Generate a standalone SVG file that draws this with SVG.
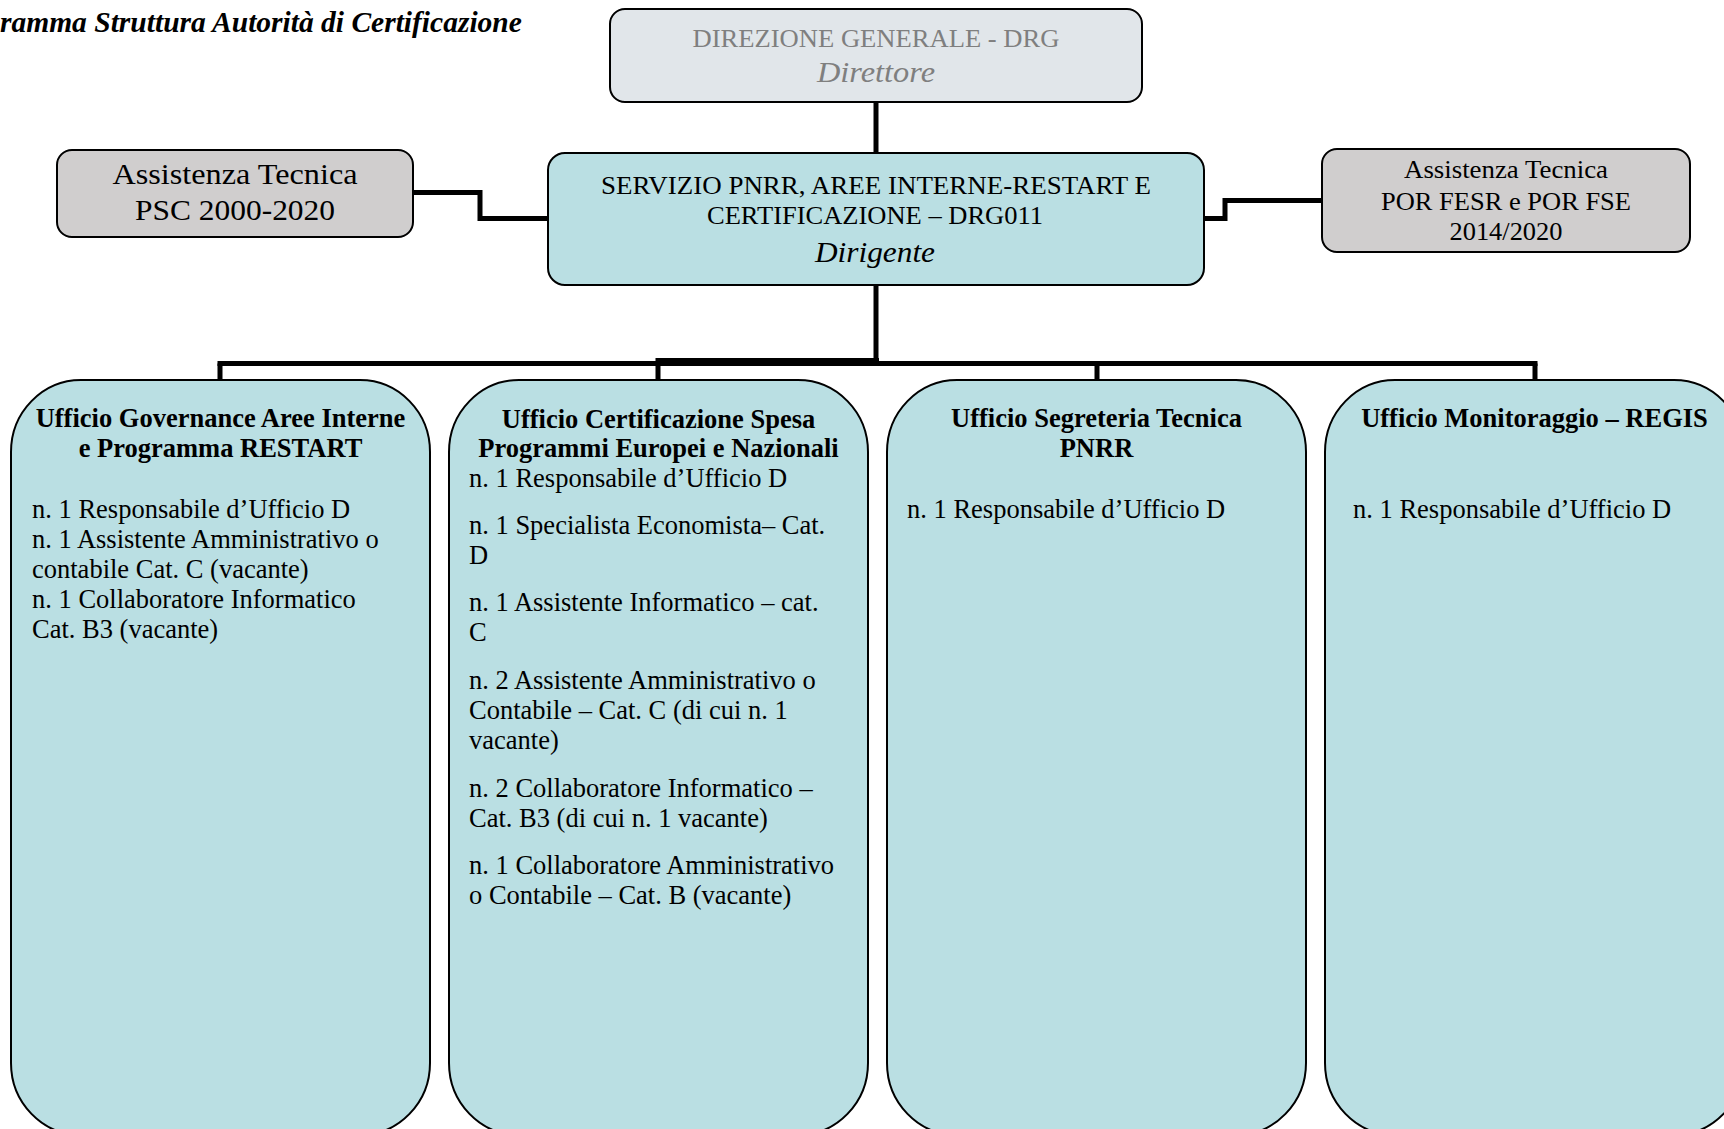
<svg xmlns="http://www.w3.org/2000/svg" width="1724" height="1129" viewBox="0 0 1724 1129">
<style>
  text { font-family: "Liberation Serif", "Times New Roman", serif; fill: #000; }
  .c { text-anchor: middle; }
  .hdr { font-size: 26.5px; font-weight: bold; text-anchor: middle; }
  .body { font-size: 26.5px; }
  .conn { fill: none; stroke: #000; stroke-width: 5; stroke-linejoin: miter; stroke-linecap: butt; }
  .office { fill: #badfe3; stroke: #000; stroke-width: 2; }
  .grey { fill: #d0cece; stroke: #000; stroke-width: 2; }
</style>
<rect width="1724" height="1129" fill="#ffffff"/>

<text x="0" y="32" font-size="29.5" font-weight="bold" font-style="italic">ramma Struttura Autorità di Certificazione</text>

<g id="connectors">
  <path class="conn" stroke-width="6" d="M876 102 V153"/>
  <path class="conn" stroke-width="6" d="M876 285 V366"/>
  <path class="conn" d="M217.5 363.5 H1537.5"/>
  <path class="conn" d="M655.5 360.5 H879"/>
  <path class="conn" d="M220 363.5 V381 M658 363.5 V381 M1097 363.5 V381 M1535 363.5 V381"/>
  <path class="conn" d="M413 192.5 H480 V218.5 H548"/>
  <path class="conn" d="M1204 218.5 H1225 V200.5 H1322"/>
</g>

<g id="node-drg">
  <rect x="610" y="9" width="532" height="93" rx="15" ry="15" fill="#e1e6ea" stroke="#000" stroke-width="2"/>
  <text class="c" x="876" y="47" font-size="25" style="fill:#7f7f7f" textLength="367" lengthAdjust="spacingAndGlyphs">DIREZIONE GENERALE - DRG</text>
  <text class="c" x="876" y="82" font-size="30" font-style="italic" style="fill:#7f7f7f" textLength="118" lengthAdjust="spacingAndGlyphs">Direttore</text>
</g>

<g id="node-servizio">
  <rect x="548" y="153" width="656" height="132" rx="17" ry="17" fill="#badfe3" stroke="#000" stroke-width="2"/>
  <text class="c" x="876" y="194" font-size="25" textLength="550" lengthAdjust="spacingAndGlyphs">SERVIZIO PNRR, AREE INTERNE-RESTART E</text>
  <text class="c" x="875" y="224" font-size="25" textLength="336" lengthAdjust="spacingAndGlyphs">CERTIFICAZIONE – DRG011</text>
  <text class="c" x="875" y="262" font-size="30" font-style="italic" textLength="120" lengthAdjust="spacingAndGlyphs">Dirigente</text>
</g>

<g id="node-at-psc">
  <rect class="grey" x="57" y="150" width="356" height="87" rx="15" ry="15"/>
  <text class="c" x="235" y="184" font-size="30" textLength="245" lengthAdjust="spacingAndGlyphs">Assistenza Tecnica</text>
  <text class="c" x="235" y="220" font-size="30" textLength="200" lengthAdjust="spacingAndGlyphs">PSC 2000-2020</text>
</g>

<g id="node-at-por">
  <rect class="grey" x="1322" y="149" width="368" height="103" rx="15" ry="15"/>
  <text class="c" x="1506" y="178" font-size="26" textLength="204" lengthAdjust="spacingAndGlyphs">Assistenza Tecnica</text>
  <text class="c" x="1506" y="210" font-size="26" textLength="250" lengthAdjust="spacingAndGlyphs">POR FESR e POR FSE</text>
  <text class="c" x="1506" y="240" font-size="26" textLength="113" lengthAdjust="spacingAndGlyphs">2014/2020</text>
</g>

<g id="node-ufficio-governance">
  <rect class="office" x="11" y="380" width="419" height="755" rx="70" ry="72"/>
  <text class="hdr" x="220.5" y="427">Ufficio Governance Aree Interne</text>
  <text class="hdr" x="220.5" y="457">e Programma RESTART</text>
  <text class="body" x="32" y="518">n. 1 Responsabile d’Ufficio D</text>
  <text class="body" x="32" y="548">n. 1 Assistente Amministrativo o</text>
  <text class="body" x="32" y="578">contabile Cat. C (vacante)</text>
  <text class="body" x="32" y="608">n. 1 Collaboratore Informatico</text>
  <text class="body" x="32" y="638">Cat. B3 (vacante)</text>
</g>

<g id="node-ufficio-certificazione">
  <rect class="office" x="449" y="380" width="419" height="755" rx="70" ry="72"/>
  <text class="hdr" x="658.5" y="428">Ufficio Certificazione Spesa</text>
  <text class="hdr" x="658.5" y="457">Programmi Europei e Nazionali</text>
  <text class="body" x="469" y="487">n. 1 Responsabile d’Ufficio D</text>
  <text class="body" x="469" y="534">n. 1 Specialista Economista– Cat.</text>
  <text class="body" x="469" y="564">D</text>
  <text class="body" x="469" y="611">n. 1 Assistente Informatico – cat.</text>
  <text class="body" x="469" y="641">C</text>
  <text class="body" x="469" y="689">n. 2 Assistente Amministrativo o</text>
  <text class="body" x="469" y="719">Contabile – Cat. C (di cui n. 1</text>
  <text class="body" x="469" y="749">vacante)</text>
  <text class="body" x="469" y="797">n. 2 Collaboratore Informatico –</text>
  <text class="body" x="469" y="827">Cat. B3 (di cui n. 1 vacante)</text>
  <text class="body" x="469" y="874">n. 1 Collaboratore Amministrativo</text>
  <text class="body" x="469" y="904">o Contabile – Cat. B (vacante)</text>
</g>

<g id="node-ufficio-segreteria">
  <rect class="office" x="887" y="380" width="419" height="755" rx="70" ry="72"/>
  <text class="hdr" x="1096.5" y="427">Ufficio Segreteria Tecnica</text>
  <text class="hdr" x="1096.5" y="457">PNRR</text>
  <text class="body" x="907" y="518">n. 1 Responsabile d’Ufficio D</text>
</g>

<g id="node-ufficio-monitoraggio">
  <rect class="office" x="1325" y="380" width="419" height="755" rx="70" ry="72"/>
  <text class="hdr" x="1534.5" y="427">Ufficio Monitoraggio – REGIS</text>
  <text class="body" x="1353" y="518">n. 1 Responsabile d’Ufficio D</text>
</g>
</svg>
